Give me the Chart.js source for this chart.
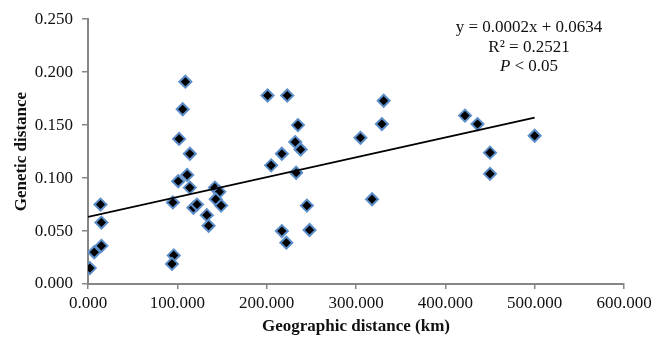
<!DOCTYPE html>
<html>
<head>
<meta charset="utf-8">
<script src="https://cdn.jsdelivr.net/npm/chart.js@4/dist/chart.umd.min.js"></script>
<style>
  body { margin: 0; background: #fff; }
  canvas { display: block; }
</style>
</head>
<body>
<canvas id="chart" width="652" height="337"></canvas>
<script>
//geographic distance (km) of each pair
const distKm = [2, 7, 15, 15, 14, 95, 96, 94, 101, 114, 118, 122, 109, 106, 102, 114, 111,
  133, 135, 142, 147, 143, 149, 201, 223, 235, 232, 238, 217, 205, 233, 245, 217, 222, 248,
  331, 329, 305, 318, 422, 436, 500, 450, 450];
//genetic distance of each pair
const genDist = [0.015, 0.030, 0.036, 0.058, 0.075, 0.077, 0.027, 0.019, 0.097, 0.091, 0.072,
  0.075, 0.191, 0.165, 0.137, 0.123, 0.103, 0.065, 0.055, 0.091, 0.087, 0.080, 0.074, 0.178,
  0.178, 0.150, 0.134, 0.127, 0.123, 0.112, 0.105, 0.074, 0.050, 0.039, 0.051, 0.173, 0.151,
  0.138, 0.080, 0.159, 0.151, 0.140, 0.124, 0.104];
//linear trend line end points
const trendX = [0, 500];
const trendY = [0.0634, 0.157];
//equation text
const eqLines = ["y = 0.0002x + 0.0634", "R\u00b2 = 0.2521", "P", " < 0.05"];

const serif = '"Liberation Serif", "Times New Roman", serif';
Chart.defaults.font.family = serif;
Chart.defaults.font.size = 17;
Chart.defaults.color = "#111";

const points = distKm.map((x, i) => ({ x: x, y: genDist[i] }));
const trend = trendX.map((x, i) => ({ x: x, y: trendY[i] }));

//plugin that writes the regression equation
const equationPlugin = {
  id: "equation",
  afterDraw(chart) {
    const ctx = chart.ctx;
    const cx = 529;
    ctx.save();
    ctx.fillStyle = "#111";
    ctx.textBaseline = "middle";
    ctx.textAlign = "center";
    ctx.font = "17px " + serif;
    ctx.fillText(eqLines[0], cx, 28);
    ctx.fillText(eqLines[1], cx, 48);
    //P is italic
    ctx.font = "italic 17px " + serif;
    const wP = ctx.measureText(eqLines[2]).width;
    ctx.font = "17px " + serif;
    const wRest = ctx.measureText(eqLines[3]).width;
    const start = cx - (wP + wRest) / 2;
    ctx.textAlign = "left";
    ctx.font = "italic 17px " + serif;
    ctx.fillText(eqLines[2], start, 67);
    ctx.font = "17px " + serif;
    ctx.fillText(eqLines[3], start + wP, 67);
    ctx.restore();
  },
};

const whiteBg = {
  id: "whiteBg",
  beforeDraw(chart) {
    const ctx = chart.ctx;
    ctx.save();
    ctx.fillStyle = "#fff";
    ctx.fillRect(0, 0, chart.width, chart.height);
    ctx.restore();
  },
};

new Chart(document.getElementById("chart"), {
  type: "scatter",
  plugins: [whiteBg, equationPlugin],
  data: {
    datasets: [
      {
        data: points,
        pointStyle: "rectRot",
        pointRadius: 6,
        pointBackgroundColor: "#000",
        pointBorderColor: "#5b8dc8",
        pointBorderWidth: 2,
        showLine: false,
        order: 2,
      },
      {
        data: trend,
        showLine: true,
        borderColor: "#000",
        borderWidth: 1.8,
        pointRadius: 0,
        order: 1,
      },
    ],
  },
  options: {
    responsive: false,
    devicePixelRatio: 1,
    animation: false,
    layout: { padding: { top: 19, right: 28, left: 0, bottom: 0 } },
    plugins: {
      legend: { display: false },
      tooltip: { enabled: false },
    },
    scales: {
      x: {
        type: "linear",
        min: 0,
        max: 600,
        afterFit: (s) => {
          s.height = 53;
          s.paddingLeft = 0;
          s.paddingRight = 0;
        },
        ticks: {
          stepSize: 100,
          padding: 4,
          maxRotation: 0,
          callback: (v) => v.toFixed(3),
        },
        grid: { drawOnChartArea: false, tickLength: 5, color: "#868686", lineWidth: 1.5 },
        border: { color: "#868686", width: 2 },
        title: {
          display: true,
          text: "Geographic distance (km)",
          font: { weight: "bold", size: 17 },
          padding: { top: 0, bottom: 0 },
        },
      },
      y: {
        min: 0,
        max: 0.25,
        afterFit: (s) => { s.width = 88; },
        ticks: {
          stepSize: 0.05,
          padding: 9,
          callback: (v) => v.toFixed(3),
        },
        grid: { drawOnChartArea: false, tickLength: 6, color: "#868686", lineWidth: 1.5 },
        border: { color: "#868686", width: 2 },
        title: {
          display: true,
          text: "Genetic distance",
          font: { weight: "bold", size: 17 },
          padding: { top: 11, bottom: 0 },
        },
      },
    },
  },
});
</script>
</body>
</html>
